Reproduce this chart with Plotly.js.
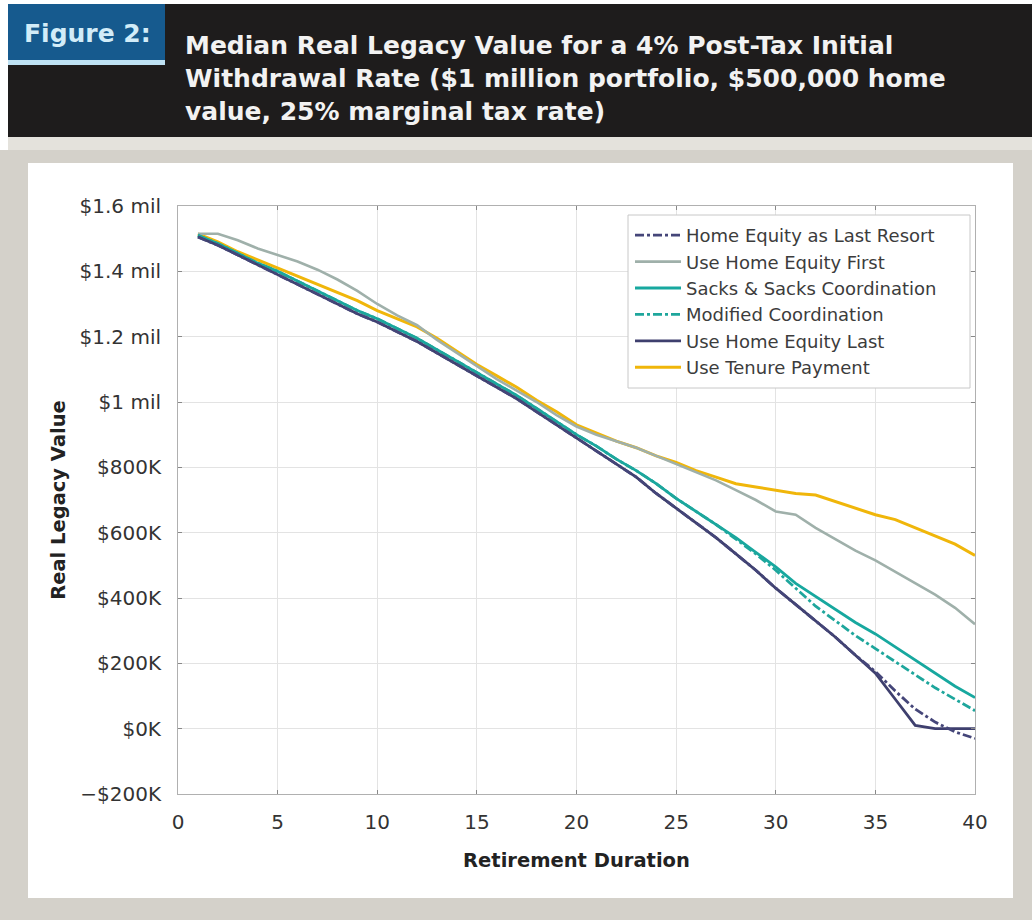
<!DOCTYPE html>
<html>
<head>
<meta charset="utf-8">
<script src="https://cdn.plot.ly/plotly-3.0.1.min.js"></script>
<style>html,body{margin:0;padding:0;background:#fff;}#chart{width:1032px;height:920px;}</style>
</head>
<body>
<div id="chart"></div>
<script>
// ---- Data ----
const years = [1,2,3,4,5,6,7,8,9,10,11,12,13,14,15,16,17,18,19,20,21,22,23,24,25,26,27,28,29,30,31,32,33,34,35,36,37,38,39,40];

const homeEquityLastResort = [1.505,1.48,1.45,1.42,1.39,1.36,1.33,1.30,1.27,1.245,1.215,1.185,1.15,1.115,1.08,1.045,1.01,0.97,0.93,0.89,0.85,0.81,0.77,0.72,0.675,0.63,0.585,0.535,0.485,0.43,0.38,0.33,0.28,0.225,0.175,0.115,0.06,0.02,-0.01,-0.03];
const useHomeEquityFirst   = [1.515,1.515,1.495,1.47,1.45,1.43,1.405,1.375,1.34,1.30,1.265,1.235,1.19,1.15,1.11,1.07,1.035,1.0,0.96,0.925,0.90,0.88,0.86,0.835,0.81,0.785,0.76,0.73,0.70,0.665,0.655,0.615,0.58,0.545,0.515,0.48,0.445,0.41,0.37,0.32];
const sacksCoordination    = [1.51,1.485,1.455,1.425,1.40,1.37,1.34,1.31,1.28,1.255,1.225,1.195,1.16,1.125,1.09,1.055,1.02,0.98,0.94,0.90,0.865,0.825,0.79,0.75,0.705,0.665,0.625,0.585,0.54,0.495,0.445,0.405,0.365,0.325,0.29,0.25,0.21,0.17,0.13,0.095];
const modifiedCoordination = [1.51,1.485,1.455,1.425,1.40,1.37,1.34,1.31,1.28,1.255,1.225,1.195,1.16,1.125,1.09,1.055,1.02,0.98,0.94,0.90,0.865,0.825,0.79,0.75,0.705,0.665,0.625,0.58,0.535,0.485,0.43,0.375,0.33,0.285,0.245,0.205,0.165,0.125,0.09,0.055];
const useHomeEquityLast    = [1.505,1.48,1.45,1.42,1.39,1.36,1.33,1.30,1.27,1.245,1.215,1.185,1.15,1.115,1.08,1.045,1.01,0.97,0.93,0.89,0.85,0.81,0.77,0.72,0.675,0.63,0.585,0.535,0.485,0.43,0.38,0.33,0.28,0.225,0.17,0.09,0.01,0.0,0.0,0.0];
const useTenurePayment     = [1.515,1.49,1.46,1.435,1.41,1.385,1.36,1.335,1.31,1.28,1.255,1.23,1.195,1.155,1.115,1.08,1.045,1.005,0.97,0.93,0.905,0.88,0.86,0.835,0.815,0.79,0.77,0.75,0.74,0.73,0.72,0.715,0.695,0.675,0.655,0.64,0.615,0.59,0.565,0.53];

const yTickVals  = [-200000,0,200000,400000,600000,800000,1000000,1200000,1400000,1600000];
const yTickText  = ['\u2212$200K','$0K','$200K','$400K','$600K','$800K','$1 mil','$1.2 mil','$1.4 mil','$1.6 mil'];
const xTickVals  = [0,5,10,15,20,25,30,35,40];

const seriesNames = ['Home Equity as Last Resort','Use Home Equity First','Sacks & Sacks Coordination','Modified Coordination','Use Home Equity Last','Use Tenure Payment'];
const seriesData  = [homeEquityLastResort,useHomeEquityFirst,sacksCoordination,modifiedCoordination,useHomeEquityLast,useTenurePayment];

const figureLabel = 'Figure 2:';
const titleLines = ['Median Real Legacy Value for a 4% Post-Tax Initial',
                    'Withdrawal Rate ($1 million portfolio, $500,000 home',
                    'value, 25% marginal tax rate)'];

// ---- Styles ----
const styles = [
  {color:'#454679', dash:'dashdot', width:2.8},
  {color:'#9fb0aa', dash:'solid',   width:2.6},
  {color:'#17a89f', dash:'solid',   width:2.8},
  {color:'#1ea69c', dash:'dashdot', width:2.8},
  {color:'#3e3f6e', dash:'solid',   width:2.8},
  {color:'#f0b60a', dash:'solid',   width:3}
];

const traces = seriesNames.map((n,i)=>({
  type:'scatter', mode:'lines', name:n,
  x: years,
  y: seriesData[i].map(v=>v*1e6),
  line:{color:styles[i].color, dash:styles[i].dash, width:styles[i].width},
  legendrank: i+1
}));
const order = [5,1,2,3,4,0];
const ordered = order.map(i=>traces[i]);

// ---- Layout helpers (pixel -> paper) ----
const W=1032, H=920, ML=178, MR=57, MT=206, MB=126;
const PW=W-ML-MR, PH=H-MT-MB;
const px = x => (x-ML)/PW;
const py = y => (H-MB-y)/PH;
function rect(x0,y0,x1,y1,color,layer,lineColor){
  return {type:'rect', xref:'paper', yref:'paper', x0:px(x0), x1:px(x1), y0:py(y1), y1:py(y0),
          fillcolor:color, line:lineColor?{width:1,color:lineColor}:{width:0}, layer:layer||'below'};
}

const FONT = '"DejaVu Sans", Verdana, sans-serif';
const HFONT = '"DejaVu Sans", sans-serif';
const lineY = [45, 78, 111];

const annotations = [
  {text:figureLabel, xref:'paper', yref:'paper', x:px(87), y:py(34), xanchor:'center', yanchor:'middle',
   showarrow:false, font:{family:HFONT, size:25, color:'#d2ecf8', weight:700}}
].concat(titleLines.map((t,i)=>({
  text:t, xref:'paper', yref:'paper', x:px(183), y:py(lineY[i]), xanchor:'left', yanchor:'middle',
  showarrow:false, font:{family:HFONT, size:25, color:'#f2f2f2', weight:700}
})));

const layout = {
  width:W, height:H,
  margin:{l:ML, r:MR, t:MT, b:MB, pad:0},
  paper_bgcolor:'#d4d1ca',
  plot_bgcolor:'#ffffff',
  showlegend:true,
  shapes:[
    rect(0,0,W,150,'#ffffff'),
    rect(8,4,W,137,'#1e1c1c'),
    rect(8,137,W,150,'#e4e2dc'),
    rect(8,150,W,H,'#d4d1ca'),
    rect(8,4,165,60,'#165a8e'),
    rect(8,60,165,65,'#bfe2f4'),
    rect(28,163,1013,898,'#ffffff'),
    rect(628,215,970,388,'#ffffff','above','#c8c8c8')
  ],
  annotations: annotations,
  xaxis:{
    range:[0,40], tickvals:xTickVals, ticktext:xTickVals.map(String),
    showgrid:true, gridcolor:'#e3e3e3', gridwidth:1,
    zeroline:false, showline:true, linecolor:'#b0b0b0', linewidth:1, mirror:'ticks',
    ticks:'inside', ticklen:4, tickcolor:'#888', ticklabelstandoff:10,
    tickfont:{family:FONT, size:20, color:'#333'},
    title:{text:'Retirement Duration', standoff:20, font:{family:FONT, size:19.5, color:'#222', weight:700}}
  },
  yaxis:{
    range:[-200000,1600000], tickvals:yTickVals, ticktext:yTickText,
    showgrid:true, gridcolor:'#e3e3e3', gridwidth:1,
    zeroline:false, showline:true, linecolor:'#b0b0b0', linewidth:1, mirror:'ticks',
    ticks:'inside', ticklen:4, tickcolor:'#888', ticklabelstandoff:12,
    tickfont:{family:FONT, size:20, color:'#333'},
    title:{text:'Real Legacy Value', standoff:8, font:{family:FONT, size:19.5, color:'#222', weight:700}}
  },
  legend:{
    x:px(630), y:py(217), xanchor:'left', yanchor:'top',
    bgcolor:'rgba(0,0,0,0)', borderwidth:0,
    font:{family:FONT, size:18, color:'#3c3c3c'},
    traceorder:'normal', tracegroupgap:0, itemwidth:46
  }
};

Plotly.newPlot('chart', ordered, layout, {displayModeBar:false, staticPlot:true});
</script>
</body>
</html>
